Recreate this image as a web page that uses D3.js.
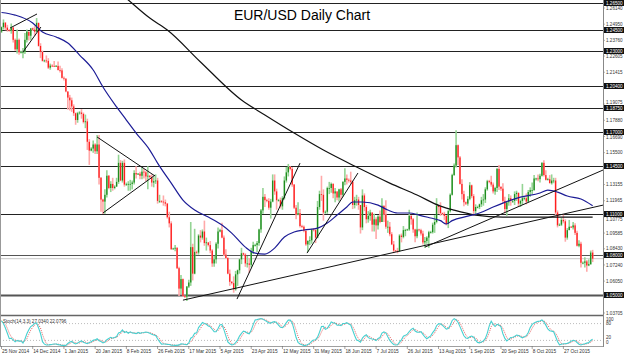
<!DOCTYPE html>
<html>
<head>
<meta charset="utf-8">
<script src="https://cdn.jsdelivr.net/npm/d3@7"></script>
<style>
  body { margin: 0; background: #fff; }
  svg { display: block; font-family: "Liberation Sans", Arial, sans-serif; }
</style>
</head>
<body>
<div id="chart"></div>
<script>
// EUR/USD daily bars (6 bars a week, Sun..Fri), 25 Nov 2014 - 13 Nov 2015
// prices are in 1/10000 (12473 = 1.2473); open of a bar = previous close
var firstOpen = 12440;
var closes = [
  12473,12506,12470,12451,
  12448,12470,12380,12310,12380,12288, 12290,12290,12380,12440,12410,12465,
  12455,12440,12505,12335,12290,12225, 12228,12225,12175,12190,12188,12185,
  12188,12158,12155,12100,12095,12000, 11955,11935,11890,11840,11790,11840,
  11845,11835,11775,11780,11630,11565, 11580,11610,11560,11610,11365,11205,
  11190,11240,11380,11290,11320,11290, 11300,11335,11475,11345,11475,11315,
  11320,11320,11320,11330,11400,11390, 11395,11380,11410,11405,11375,11380,
  11370,11330,11340,11345,11195,11195, 11190,11185,11175,11075,11030,10840,
  10845,10850,10700,10550,10620,10495, 10490,10565,10595,10855,10660,10820,
  10815,10940,10925,10970,10885,10890, 10870,10830,10735,10765,10880,10970,
  10980,10925,10800,10775,10660,10600, 10590,10545,10655,10685,10765,10810,
  10800,10735,10735,10725,10825,10870, 10870,10885,10985,11125,11225,11200,
  11195,11145,11190,11345,11265,11200, 11200,11155,11215,11345,11405,11445,
  11430,11315,11145,11095,11105,11010, 11005,10975,10875,10900,10905,10985,
  10980,10925,11150,11245,11240,11110, 11115,11290,11290,11320,11250,11265,
  11220,11280,11240,11335,11360,11350, 11345,11335,11165,11200,11205,11165,
  11000,11235,11150,11060,11085,11110, 11020,11060,11015,11080,11040,11160,
  11095,11005,11005,10950,10875,10830, 10828,10825,10940,10930,10980,10980,
  10985,11085,11060,10985,10935,10985, 10980,10955,10890,10900,10925,10965,
  10965,11020,11040,11160,11150,11105, 11100,11085,11025,11120,11240,11385,
  11455,11605,11515,11320,11245,11185, 11175,11210,11310,11230,11120,11150,
  11150,11170,11200,11205,11280,11340, 11335,11315,11265,11290,11430,11300,
  11285,11195,11135,11185,11215,11195, 11195,11245,11255,11175,11195,11215,
  11215,11190,11260,11275,11275,11360, 11360,11355,11380,11475,11385,11350,
  11355,11325,11345,11345,11110,11015, 11020,11055,11045,10925,10980,11005,
  11000,11015,10960,10865,10880,10740, 10740,10750,10720,10730,10815,10770
];
var highs = [
  12478,12530,12510,12490,
  12460,12500,12475,12390,12455,12390, 12300,12320,12430,12455,12440,12465,
  12470,12480,12540,12505,12355,12300, 12235,12265,12245,12205,12200,12225,
  12195,12220,12190,12170,12110,12095, 11990,11975,11955,11905,11845,11850,
  11855,11870,11845,11830,11800,11650, 11590,11640,11620,11680,11680,11370,
  11210,11280,11420,11385,11340,11365, 11310,11365,11535,11495,11490,11500,
  11330,11340,11350,11345,11420,11450, 11400,11410,11445,11430,11415,11450,
  11385,11390,11370,11390,11365,11240, 11200,11235,11205,11180,11115,11045,
  10850,10870,10855,10710,10650,10625, 10500,10570,10615,11040,10880,10990,
  10830,10950,10980,10985,11050,10925, 10885,10900,10840,10790,10890,11000,
  10990,11035,10940,10840,10780,10690, 10605,10640,10680,10690,10770,10850,
  10815,10810,10790,10775,10850,10895, 10880,10900,10990,11135,11290,11245,
  11210,11215,11210,11390,11390,11285, 11210,11220,11230,11375,11445,11467,
  11450,11445,11320,11165,11185,11135, 11020,11015,10980,10905,10935,10990,
  10995,10990,11195,11270,11380,11280, 11125,11300,11335,11330,11325,11290,
  11240,11285,11290,11340,11436,11390, 11360,11410,11345,11225,11240,11225,
  11160,11280,11250,11165,11120,11130, 11060,11100,11075,11090,11125,11215,
  11160,11200,11050,11040,10965,10900, 10835,10850,10950,10955,11010,10990,
  10990,11130,11090,11070,10990,11110, 10990,10990,10975,10930,10935,10975,
  10975,11035,11090,11215,11165,11185, 11110,11115,11090,11130,11250,11395,
  11470,11714,11610,11525,11355,11270, 11190,11230,11333,11315,11245,11170,
  11160,11175,11225,11245,11295,11350, 11350,11380,11330,11300,11437,11460,
  11300,11325,11225,11195,11245,11235, 11205,11265,11270,11255,11205,11320,
  11225,11250,11275,11295,11330,11385, 11365,11390,11395,11480,11495,11420,
  11365,11385,11390,11365,11365,11125, 11030,11070,11095,11060,10995,11055,
  11010,11040,11030,10975,10905,10895, 10750,10780,10760,10765,10830,10835
];
var lows = [
  12430,12455,12450,12440,
  12440,12425,12360,12300,12280,12270, 12280,12245,12275,12360,12375,12380,
  12445,12410,12435,12330,12245,12220, 12215,12210,12165,12160,12180,12180,
  12180,12155,12140,12095,12080,11995, 11865,11860,11850,11820,11755,11770,
  11830,11800,11765,11730,11570,11460, 11560,11550,11540,11540,11315,11115,
  11098,11100,11220,11280,11260,11270, 11280,11300,11320,11340,11330,11300,
  11305,11270,11270,11280,11315,11360, 11385,11355,11355,11360,11340,11280,
  11365,11300,11295,11320,11175,11180, 11180,11160,11155,11065,11000,10835,
  10835,10825,10695,10495,10510,10490, 10480,10458,10555,10570,10610,10655,
  10800,10800,10890,10910,10865,10830, 10860,10810,10710,10710,10735,10845,
  10965,10920,10790,10770,10655,10570, 10580,10520,10535,10570,10660,10730,
  10790,10710,10705,10665,10705,10805, 10860,10820,10865,10960,11100,11150,
  11185,11130,11065,11185,11240,11130, 11190,11140,11130,11205,11330,11375,
  11420,11300,11135,11060,11090,11000, 10995,10965,10865,10819,10870,10880,
  10970,10885,10920,11130,11195,11050, 11100,11100,11245,11255,11215,11185,
  11200,11190,11205,11225,11310,11315, 11330,11320,11135,11140,11160,11130,
  10955,10980,11120,11030,11035,11050, 10970,10970,10915,10985,11030,11040,
  11040,10990,10960,10935,10870,10810, 10820,10809,10820,10890,10920,10935,
  10975,10975,11020,10960,10890,10920, 10970,10940,10875,10850,10880,10850,
  10955,10955,10960,11030,11100,11085, 11090,11055,11015,10995,11110,11235,
  11380,11440,11460,11315,11205,11155, 11165,11160,11200,11215,11085,11090,
  11140,11135,11150,11160,11180,11270, 11325,11300,11250,11240,11260,11275,
  11270,11180,11105,11085,11160,11160, 11180,11165,11195,11150,11150,11165,
  11200,11170,11185,11225,11245,11270, 11345,11340,11330,11375,11375,11345,
  11345,11325,11315,11325,11090,11000, 11010,11010,11030,10895,10910,10990,
  10995,10985,10945,10860,10855,10705, 10730,10705,10674,10715,10725,10745
];

// x-axis labels, one every 16 bars
var tickDates = ["25 Nov 2014", "14 Dec 2014", "1 Jan 2015", "20 Jan 2015", "8 Feb 2015",
  "26 Feb 2015", "17 Mar 2015", "5 Apr 2015", "23 Apr 2015", "12 May 2015", "31 May 2015",
  "18 Jun 2015", "7 Jul 2015", "26 Jul 2015", "13 Aug 2015", "1 Sep 2015", "20 Sep 2015",
  "8 Oct 2015", "27 Oct 2015"];
var barsPerTick = 16;

// right price scale labels (the ones not hidden under a level box)
var axisPrices = ["1.26140", "1.24950", "1.23760", "1.22605", "1.21415", "1.19075",
  "1.17880", "1.16690", "1.15500", "1.13155", "1.11965", "1.10775", "1.09585",
  "1.08430", "1.07240", "1.06050", "1.03705"];

// horizontal support / resistance levels
var levels = ["1.26500", "1.24500", "1.23000", "1.20400", "1.18750", "1.17000",
  "1.14500", "1.11000", "1.08000", "1.05000"];

// moving averages, [bar, price]
var blueMA = [[0,1.2581],[7,1.2562],[16,1.2504],[21,1.2437],[28,1.2401],[34,1.2356],
  [40,1.2268],[47,1.2158],[52,1.2033],[59,1.1886],[64,1.1790],[69,1.1694],[76,1.1569],
  [80,1.1473],[87,1.1326],[93,1.1201],[99,1.1128],[106,1.1076],[113,1.1017],[118,1.0958],
  [125,1.0855],[130,1.0811],[135,1.0804],[140,1.0848],[145,1.0929],[150,1.0966],
  [155,1.0981],[162,1.0995],[167,1.1032],[172,1.1091],[177,1.1150],[180,1.1187],
  [185,1.1187],[193,1.1164],[198,1.1128],[203,1.1106],[209,1.1106],[214,1.1091],
  [220,1.1069],[225,1.1050],[228,1.1025],[231,1.1050],[239,1.1083],[245,1.1106],
  [252,1.1150],[257,1.1179],[266,1.1223],[276,1.1253],[280,1.1275],[285,1.1260],
  [290,1.1231],[297,1.1209],[303,1.1160]];
var blackMA = [[58,1.2760],[65,1.2673],[76,1.2540],[85,1.2452],[102,1.2217],[123,1.1937],
  [135,1.1827],[150,1.1694],[165,1.1569],[182,1.1444],[199,1.1326],[213,1.1238],
  [225,1.1157],[232,1.1127],[243,1.1091],[257,1.1076],[274,1.1076],[303,1.1076]];

// drawn trend lines, [[bar, price], [bar, price]]
var trendLines = [
  [[4.4,1.2467],[18.2,1.2570]],
  [[11,1.2290],[20.2,1.2474]],
  [[49,1.1665],[78.7,1.1378]],
  [[52,1.1106],[78.7,1.1385]],
  [[93,1.0465],[308.3,1.1164]],
  [[120.7,1.0473],[153,1.1473]],
  [[156.6,1.0811],[182.7,1.1400]],
  [[217,1.0855],[308.3,1.1422]]
];

var stochText = "Stoch(14,3,3) 27.0340 22.0796";
var stochLabels = ["100", "80", "20", "0"];

// chart size
var width = 624, height = 355;
var plotRight = 603, priceBottom = 315;

var svg = d3.select("#chart").append("svg")
    .attr("width", width)
    .attr("height", height);

var x = d3.scaleLinear().domain([0, 309]).range([1.5, 1.5 + 309 * 1.951]);
var y = d3.scaleLinear().domain([1.03705, 1.26140]).range([313, 8]);
var ys = d3.scaleLinear().domain([0, 100]).range([346, 318]);

svg.append("clipPath").attr("id", "pclip")
  .append("rect").attr("x", 0).attr("y", 0).attr("width", plotRight).attr("height", priceBottom);
svg.append("clipPath").attr("id", "sclip")
  .append("rect").attr("x", 0).attr("y", 316).attr("width", plotRight).attr("height", 31);

// build bars
var bars = closes.map(function(c, i) {
  var o = i === 0 ? firstOpen : closes[i - 1];
  return {
    i: i,
    o: o / 1e4,
    c: c / 1e4,
    h: Math.max(highs[i], o, c) / 1e4,
    l: Math.min(lows[i], o, c) / 1e4
  };
});

var price = svg.append("g").attr("clip-path", "url(#pclip)");

// level lines
price.selectAll(".level")
    .data(levels)
  .enter().append("line")
    .attr("x1", 0).attr("x2", plotRight)
    .attr("y1", function(d) { return Math.round(y(+d)) + 0.5; })
    .attr("y2", function(d) { return Math.round(y(+d)) + 0.5; })
    .attr("stroke", function(d) { return d === "1.05000" || d === "1.08000" ? "#555" : "#222"; })
    .attr("stroke-width", function(d) { return d === "1.05000" ? 2 : 1.2; });

// bid line
var lastClose = bars[bars.length - 1].c;
price.append("line")
    .attr("x1", 0).attr("x2", plotRight)
    .attr("y1", y(lastClose)).attr("y2", y(lastClose))
    .attr("stroke", "#c8c8c8").attr("stroke-width", 1);

// candles
var candle = price.selectAll(".bar")
    .data(bars)
  .enter().append("g");

candle.append("line")
    .attr("x1", function(d) { return x(d.i); })
    .attr("x2", function(d) { return x(d.i); })
    .attr("y1", function(d) { return y(d.h); })
    .attr("y2", function(d) { return y(d.l); })
    .attr("stroke", function(d) { return d.c >= d.o ? "#94d494" : "#ffa8a8"; })
    .attr("stroke-width", 1.6);

candle.append("rect")
    .attr("x", function(d) { return x(d.i) - 0.65; })
    .attr("width", 1.3)
    .attr("y", function(d) { return y(Math.max(d.o, d.c)); })
    .attr("height", function(d) { return Math.max(0.8, Math.abs(y(d.o) - y(d.c))); })
    .attr("fill", function(d) { return d.c >= d.o ? "#1e8c1e" : "#ff1e1e"; });

// moving averages
var maLine = d3.line()
    .x(function(d) { return x(d[0]); })
    .y(function(d) { return y(d[1]); })
    .curve(d3.curveMonotoneX);

price.append("path").datum(blackMA)
    .attr("d", maLine).attr("fill", "none")
    .attr("stroke", "#111").attr("stroke-width", 1.2);

price.append("path").datum(blueMA)
    .attr("d", maLine).attr("fill", "none")
    .attr("stroke", "#1c1c96").attr("stroke-width", 1.2);

// trend lines
price.selectAll(".trend")
    .data(trendLines)
  .enter().append("line")
    .attr("x1", function(d) { return x(d[0][0]); })
    .attr("y1", function(d) { return y(d[0][1]); })
    .attr("x2", function(d) { return x(d[1][0]); })
    .attr("y2", function(d) { return y(d[1][1]); })
    .attr("stroke", "#111").attr("stroke-width", 1);

// title
svg.append("text")
    .attr("x", 302).attr("y", 20)
    .attr("text-anchor", "middle")
    .style("font-size", "14px")
    .style("fill", "#000")
    .text("EUR/USD Daily Chart");

// stochastic (14,3,3) from the bars
var kPeriod = 14, slowing = 3, dPeriod = 3;
var mainK = bars.map(function(d, i) {
  var num = 0, den = 0;
  for (var j = Math.max(0, i - slowing + 1); j <= i; j++) {
    var win = bars.slice(Math.max(0, j - kPeriod + 1), j + 1);
    var lo = d3.min(win, function(b) { return b.l; });
    var hi = d3.max(win, function(b) { return b.h; });
    num += bars[j].c - lo;
    den += hi - lo;
  }
  return den > 0 ? num / den * 100 : 50;
});
var signalD = mainK.map(function(v, i) {
  return d3.mean(mainK.slice(Math.max(0, i - dPeriod + 1), i + 1));
});

var stoch = svg.append("g").attr("clip-path", "url(#sclip)");

[80, 20].forEach(function(v) {
  stoch.append("line")
      .attr("x1", 0).attr("x2", plotRight)
      .attr("y1", ys(v)).attr("y2", ys(v))
      .attr("stroke", "#aaa").attr("stroke-width", 0.8)
      .attr("stroke-dasharray", "1,2");
});

var sLine = d3.line()
    .x(function(d, i) { return x(i); })
    .y(function(d) { return ys(d); });

stoch.append("path").datum(signalD)
    .attr("d", sLine).attr("fill", "none")
    .attr("stroke", "#e04848").attr("stroke-width", 0.9)
    .attr("stroke-dasharray", "1,1.2");

stoch.append("path").datum(mainK)
    .attr("d", sLine).attr("fill", "none")
    .attr("stroke", "#48d0d0").attr("stroke-width", 1.1);

svg.append("text")
    .attr("x", 3).attr("y", 323)
    .style("font-size", "4.6px").style("fill", "#333")
    .text(stochText);

// panel frame
svg.append("line").attr("x1", 0).attr("x2", plotRight)
    .attr("y1", priceBottom + 0.5).attr("y2", priceBottom + 0.5)
    .attr("stroke", "#666").attr("stroke-width", 1.5);
svg.append("line").attr("x1", 0).attr("x2", plotRight)
    .attr("y1", 346.5).attr("y2", 346.5)
    .attr("stroke", "#888").attr("stroke-width", 0.8);
svg.append("line").attr("x1", 0.5).attr("x2", 0.5)
    .attr("y1", 0).attr("y2", 347)
    .attr("stroke", "#999").attr("stroke-width", 1);
svg.append("line").attr("x1", plotRight + 0.5).attr("x2", plotRight + 0.5)
    .attr("y1", 0).attr("y2", 347)
    .attr("stroke", "#888").attr("stroke-width", 1);

// right price labels, nudged off any level box they would run into
var levelY = levels.map(function(d) { return Math.round(y(+d)); });
function labelY(p) {
  var ty = y(p);
  levelY.forEach(function(ly) {
    var dist = ty - ly;
    if (Math.abs(dist) < 5.2) ty = ly + (dist >= 0 ? 5.2 : -5.2);
  });
  return ty;
}

var axis = svg.append("g").style("font-size", "4.6px").style("fill", "#333");
axis.selectAll(".pl")
    .data(axisPrices)
  .enter().append("text")
    .attr("x", plotRight + 3)
    .attr("y", function(d) { return labelY(+d) + 1.6; })
    .text(function(d) { return d; });
axis.selectAll(".pt")
    .data(axisPrices)
  .enter().append("line")
    .attr("x1", plotRight).attr("x2", plotRight + 2)
    .attr("y1", function(d) { return y(+d); })
    .attr("y2", function(d) { return y(+d); })
    .attr("stroke", "#888").attr("stroke-width", 0.6);

var boxes = axis.selectAll(".box")
    .data(levels)
  .enter().append("g")
    .attr("transform", function(d) { return "translate(" + (plotRight + 1) + "," + Math.round(y(+d)) + ")"; });
boxes.append("rect")
    .attr("x", 0).attr("y", -3).attr("width", 21).attr("height", 6)
    .attr("fill", "#111");
boxes.append("text")
    .attr("x", 2).attr("y", 1.6)
    .style("fill", "#fff")
    .text(function(d) { return d; });

// stochastic scale labels (100 over 80, 20 over 0)
var stochLabelY = [320.5, 325, 338.5, 344];
axis.selectAll(".sl")
    .data(stochLabels)
  .enter().append("text")
    .attr("x", plotRight + 3)
    .attr("y", function(d, i) { return stochLabelY[i]; })
    .text(function(d) { return d; });

// x-axis labels
var xa = svg.append("g").style("font-size", "4.8px").style("fill", "#333");
xa.selectAll(".xt")
    .data(tickDates)
  .enter().append("line")
    .attr("x1", function(d, i) { return x(i * barsPerTick); })
    .attr("x2", function(d, i) { return x(i * barsPerTick); })
    .attr("y1", 346).attr("y2", 349)
    .attr("stroke", "#666").attr("stroke-width", 0.6);
xa.selectAll(".xl")
    .data(tickDates)
  .enter().append("text")
    .attr("x", function(d, i) { return x(i * barsPerTick) + 0.5; })
    .attr("y", 353)
    .text(function(d) { return d; });
</script>
</body>
</html>
